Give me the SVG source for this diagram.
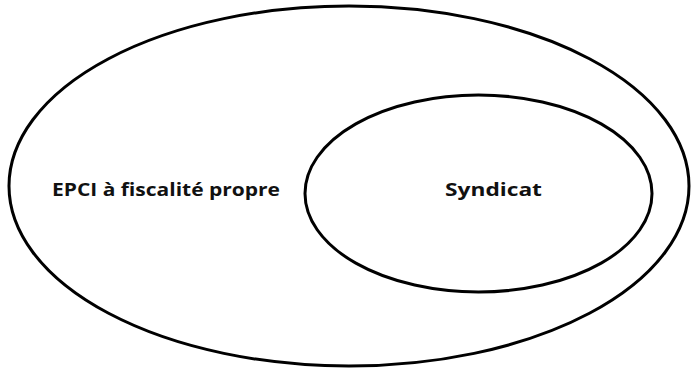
<svg xmlns="http://www.w3.org/2000/svg" width="691" height="369" viewBox="0 0 691 369">
<style>
.set{fill:none;stroke:#000;stroke-width:3}
.lbl{font-family:"Open Sans","DejaVu Sans",sans-serif;font-weight:bold;font-size:17px;fill:#111}
</style>
<rect width="691" height="369" fill="#fff"/>
<g id="epci">
<ellipse class="set" cx="349" cy="186" rx="340" ry="180"/>
<text class="lbl" x="52" y="196" textLength="228" lengthAdjust="spacingAndGlyphs">EPCI à fiscalité propre</text>
</g>
<g id="syndicat">
<ellipse class="set" cx="478.5" cy="193.5" rx="173.5" ry="98.5"/>
<text class="lbl" x="445" y="196" textLength="97" lengthAdjust="spacingAndGlyphs">Syndicat</text>
</g>
<g id="connectors"/>
</svg>
